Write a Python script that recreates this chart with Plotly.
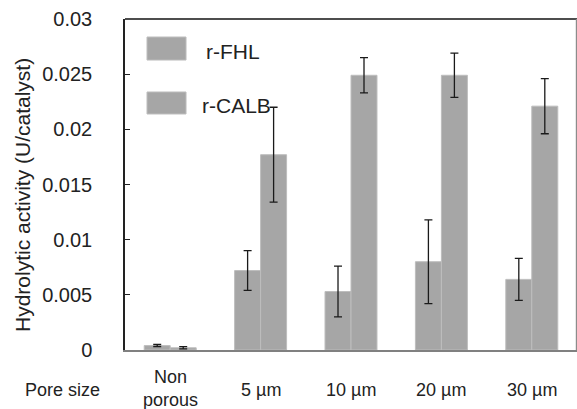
import plotly.graph_objects as go

# Pore-size groups and measured hydrolytic activity (U/catalyst)
categories = ["Non porous", "5 µm", "10 µm", "20 µm", "30 µm"]
category_labels = ["Non<br>porous", "5 µm", "10 µm", "20 µm", "30 µm"]
fhl_values = [0.0004, 0.0072, 0.0053, 0.0080, 0.0064]
fhl_errors = [0.0001, 0.0018, 0.0023, 0.0038, 0.0019]
calb_values = [0.0002, 0.0177, 0.0249, 0.0249, 0.0221]
calb_errors = [0.0001, 0.0043, 0.0016, 0.0020, 0.0025]
series_names = ["r-FHL", "r-CALB"]
y_ticks = [0, 0.005, 0.01, 0.015, 0.02, 0.025, 0.03]
y_tick_text = ["0", "0.005", "0.01", "0.015", "0.02", "0.025", "0.03"]

BAR = "#a6a6a6"
EDGE = "#bdbdbd"
FONT = "Liberation Sans, Arial, sans-serif"

fig = go.Figure()
for name, vals, errs in [(series_names[0], fhl_values, fhl_errors),
                         (series_names[1], calb_values, calb_errors)]:
    fig.add_trace(go.Bar(
        name=name, x=categories, y=vals,
        marker=dict(color=BAR, line=dict(color=EDGE, width=1)),
        error_y=dict(type="data", array=errs, visible=True,
                     color="#1a1a1a", thickness=1.3, width=4),
        showlegend=False,
    ))

# Legend: large swatches with labels
swatch_rows = [(0.9456, 0.876, 0.902), (0.7795, 0.713, 0.739)]
text_x = [0.175, 0.166]
for (y1, y0, ty), name, tx in zip(swatch_rows, series_names, text_x):
    fig.add_shape(type="rect", xref="paper", yref="paper",
                  x0=0.0487, x1=0.135, y0=y0, y1=y1,
                  fillcolor=BAR, line=dict(color=EDGE, width=1))
    fig.add_annotation(x=tx, y=ty, xref="paper", yref="paper",
                       text=name, showarrow=False, xanchor="left",
                       yanchor="middle",
                       font=dict(family=FONT, size=21, color="#222"))

# Category labels below the axis, vertically centred
for cat, lab in zip(categories, category_labels):
    two_line = "<br>" in lab
    fig.add_annotation(x=cat, y=-0.115 if two_line else -0.121,
                       xref="x", yref="paper",
                       text=lab, showarrow=False, xanchor="center",
                       yanchor="middle",
                       font=dict(family=FONT, size=18, color="#222"))
fig.add_annotation(x=-0.139, y=-0.121, xref="paper", yref="paper",
                   text="Pore size", showarrow=False, xanchor="center",
                   yanchor="middle",
                   font=dict(family=FONT, size=18, color="#222"))

# Y-axis title
fig.add_annotation(x=-0.228, y=0.468, xref="paper", yref="paper",
                   text="Hydrolytic activity (U/catalyst)", textangle=-90,
                   showarrow=False, xanchor="center", yanchor="middle",
                   font=dict(family=FONT, size=21, color="#222"))

# Top and right frame lines
fig.add_shape(type="line", xref="paper", yref="paper", x0=0, x1=1, y0=1, y1=1,
              line=dict(color="#4d4d4d", width=2))
fig.add_shape(type="line", xref="paper", yref="paper", x0=0.999, x1=0.999,
              y0=0, y1=1, line=dict(color="#8c8c8c", width=1.5))

fig.update_layout(
    width=577, height=409,
    margin=dict(l=125, r=0, t=19, b=59),
    paper_bgcolor="white", plot_bgcolor="white",
    barmode="group", bargap=0.425, bargroupgap=0,
    font=dict(family=FONT, color="#222"),
    xaxis=dict(showticklabels=False, ticks="", showgrid=False,
               showline=True, linecolor="#808080", linewidth=2,
               zeroline=False),
    yaxis=dict(range=[0, 0.03], tickvals=y_ticks, ticktext=y_tick_text,
               ticks="inside", ticklen=5, tickcolor="#222", tickwidth=1,
               showgrid=False, zeroline=False,
               showline=True, linecolor="#222", linewidth=1.5,
               tickfont=dict(family=FONT, size=20, color="#222"),
               ticklabelstandoff=27),
)

fig.write_html("out.html")
